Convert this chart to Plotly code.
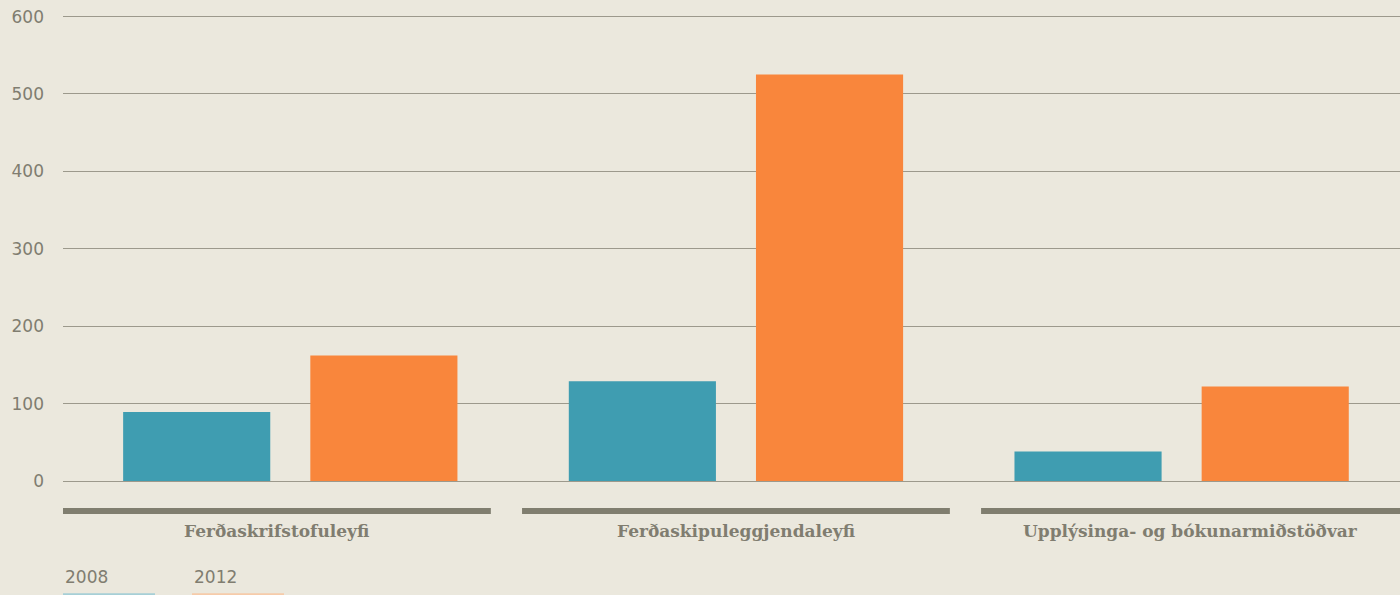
import plotly.graph_objects as go

categories = ["Ferðaskrifstofuleyfi", "Ferðaskipuleggjendaleyfi", "Upplýsinga- og bókunarmiðstöðvar"]
years = ["2008", "2012"]
values_2008 = [89, 129, 38]
values_2012 = [162, 525, 122]
y_ticks = [0, 100, 200, 300, 400, 500, 600]

BG = "#ebe8dd"
BLUE = "#3f9db1"
ORANGE = "#f9863c"
TEXT = "#807d70"
GRID = "#9c998c"
DARK = "#807e6f"

xi = list(range(len(categories)))

fig = go.Figure()
for name, vals, col in [(years[0], values_2008, BLUE), (years[1], values_2012, ORANGE)]:
    fig.add_trace(go.Bar(x=xi, y=vals, name=name, marker=dict(color=col, line=dict(width=0)),
                         showlegend=False))

fig.update_layout(
    width=1400, height=595,
    paper_bgcolor=BG, plot_bgcolor=BG,
    margin=dict(l=63, r=0, t=15, b=114),
    barmode="group", bargap=0.16, bargroupgap=0.214,
    xaxis=dict(range=[-0.51, 2.49], showgrid=False, showticklabels=False, zeroline=False,
               showline=False, fixedrange=True),
    yaxis=dict(range=[0, 602], tickvals=y_ticks, showgrid=True, gridcolor=GRID, gridwidth=1,
               zeroline=True, zerolinecolor=GRID, zerolinewidth=1, showline=False,
               tickfont=dict(family="DejaVu Sans, sans-serif", size=17, color=TEXT),
               ticklabelstandoff=18, fixedrange=True),
    font=dict(family="DejaVu Sans, sans-serif", color=TEXT),
)

# category bands and labels
for i, cat in enumerate(categories):
    x0 = i * 1.03 - 0.51
    x1 = x0 + 0.96
    fig.add_shape(type="rect", xref="x", yref="paper", x0=x0, x1=x1,
                  y0=-0.071, y1=-0.058, fillcolor=DARK, line=dict(width=0), layer="above")
    fig.add_annotation(xref="x", yref="paper", x=(x0 + min(x1, 2.49)) / 2, y=-0.108,
                       text="<b>" + cat + "</b>", showarrow=False,
                       font=dict(family="DejaVu Serif, serif", size=17, color=TEXT),
                       xanchor="center", yanchor="middle")

# legend (text above swatch)
legend_x = [0, 129]
swatch_cols = ["#a6cfd6", "#f6cba9"]
for lx, name, sc in zip(legend_x, years, swatch_cols):
    fig.add_annotation(xref="paper", yref="paper", x=lx / 1337, y=-0.206, text=name,
                       showarrow=False, xanchor="left", yanchor="middle",
                       font=dict(family="DejaVu Sans, sans-serif", size=17, color=TEXT))
    fig.add_shape(type="rect", xref="paper", yref="paper", x0=lx / 1337, x1=(lx + 92) / 1337,
                  y0=-0.26, y1=-0.241, fillcolor=sc, line=dict(width=0))

fig.write_html(
    "out.html",
    config={"displayModeBar": False},
    post_script="document.body.style.margin='0';document.body.style.background='" + BG + "';",
)
